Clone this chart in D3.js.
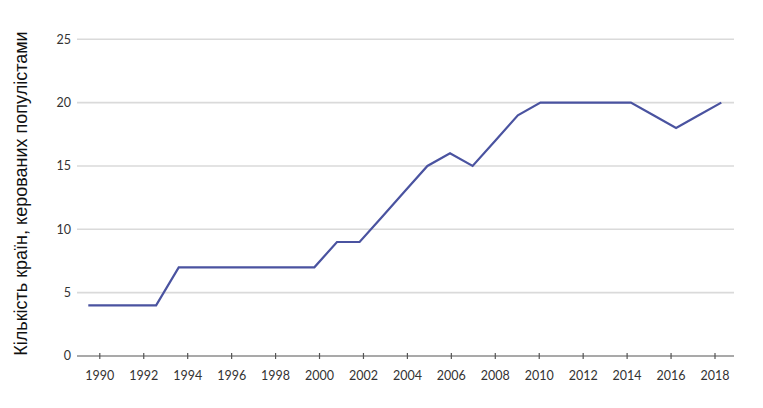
<!DOCTYPE html>
<html>
<head>
<meta charset="utf-8">
<script src="https://cdn.jsdelivr.net/npm/d3@7"></script>
<style>
  html, body { margin: 0; padding: 0; background: #fff; }
  svg { display: block; }
</style>
</head>
<body>
<svg id="chart" width="763" height="408"></svg>
<script>
const years = [1990,1991,1992,1993,1994,1995,1996,1997,1998,1999,2000,2001,2002,2003,2004,2005,2006,2007,2008,2009,2010,2011,2012,2013,2014,2015,2016,2017,2018];
const countries = [4,4,4,4,7,7,7,7,7,7,7,9,9,11,13,15,16,15,17,19,20,20,20,20,20,19,18,19,20];
const xTickLabels = [1990,1992,1994,1996,1998,2000,2002,2004,2006,2008,2010,2012,2014,2016,2018];
const yTicks = [0,5,10,15,20,25];
const yTitle = "Кількість країн, керованих популістами";

const svg = d3.select("#chart");

// scale for the data line
const x = d3.scaleLinear().domain([1990, 2018]).range([88.3, 721.3]);
// scale for the axis ticks (offset in the original artwork)
const xAxisScale = d3.scaleLinear().domain([1990, 2018]).range([99.3, 714.5]);
const y = d3.scaleLinear().domain([0, 25]).range([356, 39.3]);

const left = 77, right = 734;

// gridlines
svg.append("g").selectAll("line")
  .data(yTicks.filter(d => d > 0))
  .join("line")
  .attr("x1", left).attr("x2", right)
  .attr("y1", d => y(d)).attr("y2", d => y(d))
  .attr("stroke", "#dadada").attr("stroke-width", 1.6);

// y tick labels
svg.append("g").selectAll("text")
  .data(yTicks)
  .join("text")
  .attr("x", 71).attr("y", d => y(d))
  .attr("dy", "0.35em")
  .attr("text-anchor", "end")
  .attr("font-family", "Lato, 'Open Sans', sans-serif")
  .attr("font-size", 12.5)
  .attr("fill", "#333")
  .text(d => d);

// x axis
const xAxis = d3.axisBottom(xAxisScale)
  .tickValues(xTickLabels)
  .tickFormat(d3.format("d"))
  .tickSizeInner(3)
  .tickSizeOuter(0)
  .tickPadding(12);
const gx = svg.append("g").attr("transform", `translate(0,${y(0)})`).call(xAxis);
gx.select(".domain").remove();
gx.insert("line", ":first-child")
  .attr("x1", left).attr("x2", right)
  .attr("y1", 0).attr("y2", 0)
  .attr("stroke", "#555").attr("stroke-width", 1.2);
gx.selectAll(".tick line").attr("y1", -3).attr("y2", 3).attr("stroke", "#555").attr("stroke-width", 1.2);
gx.selectAll(".tick text")
  .attr("font-family", "Lato, 'Open Sans', sans-serif")
  .attr("font-size", 12.5)
  .attr("fill", "#333");

// data line
const line = d3.line().x((d, i) => x(years[i])).y(d => y(d));
svg.append("path")
  .datum(countries)
  .attr("d", line)
  .attr("fill", "none")
  .attr("stroke", "#4a53a0")
  .attr("stroke-width", 2.2)
  .attr("stroke-linejoin", "miter");

// y title
svg.append("text")
  .attr("transform", "translate(27,193.5) rotate(-90)")
  .attr("text-anchor", "middle")
  .attr("font-family", "'Liberation Sans', Arial, sans-serif")
  .attr("font-size", 18)
  .attr("fill", "#111")
  .text(yTitle);
</script>
</body>
</html>
